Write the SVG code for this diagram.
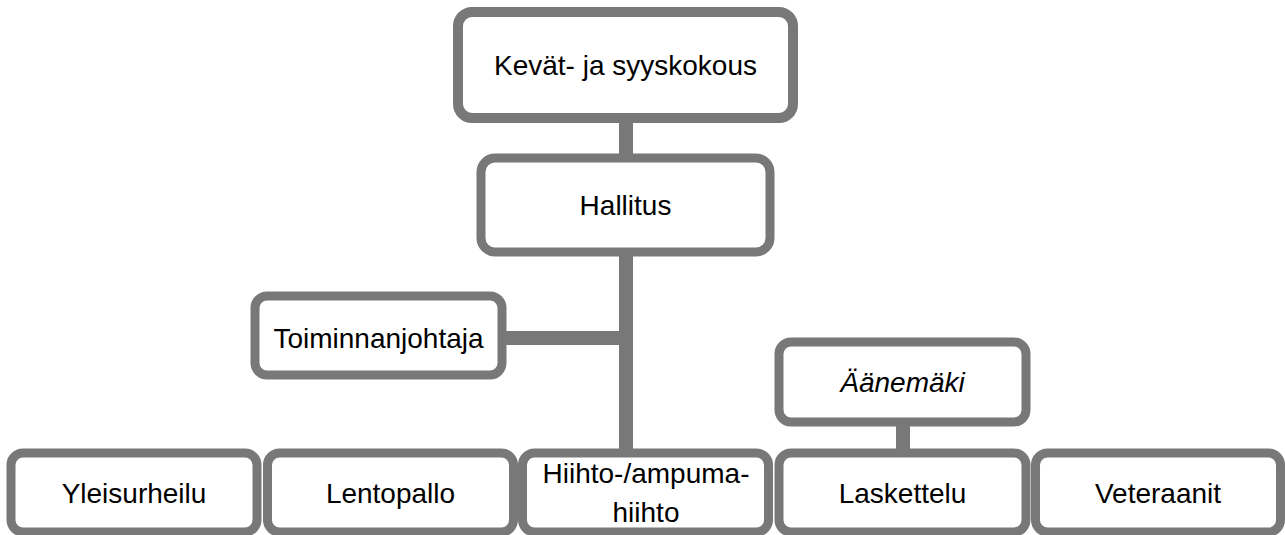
<svg xmlns="http://www.w3.org/2000/svg" width="1285" height="535" viewBox="0 0 1285 535">
<style>
.box{fill:#fff;stroke:#787878;stroke-width:9}
.con{stroke:#787878;stroke-width:14;fill:none}
text{font-family:"Liberation Sans",Arial,sans-serif;font-size:28px;fill:#000;text-anchor:middle}
</style>
<rect width="1285" height="535" fill="#fff"/>
<g id="connectors">
<line class="con" x1="626" y1="118" x2="626" y2="160"/>
<line class="con" x1="626" y1="252" x2="626" y2="455"/>
<line class="con" x1="502" y1="338" x2="626" y2="338"/>
<line class="con" x1="903" y1="422" x2="903" y2="456"/>
</g>
<g id="kevat"><rect class="box" x="458" y="12" width="335" height="106" rx="14" style="stroke-width:10"/><text x="625.5" y="75">Kevät- ja syyskokous</text></g>
<g id="hallitus"><rect class="box" x="481" y="158" width="289" height="94" rx="14"/><text x="625.5" y="215">Hallitus</text></g>
<g id="toiminnanjohtaja"><rect class="box" x="255" y="296" width="247" height="79" rx="12"/><text x="378.5" y="348">Toiminnanjohtaja</text></g>
<g id="aanemaki"><rect class="box" x="779" y="342" width="247" height="80" rx="12"/><text x="902.5" y="392" font-style="italic">Äänemäki</text></g>
<g id="yleisurheilu"><rect class="box" x="11" y="453" width="246" height="79" rx="12"/><text x="134" y="503">Yleisurheilu</text></g>
<g id="lentopallo"><rect class="box" x="267.5" y="453" width="246" height="79" rx="12"/><text x="390.5" y="503">Lentopallo</text></g>
<g id="hiihto"><rect class="box" x="522.5" y="453" width="246" height="79" rx="12"/><text x="646" y="483">Hiihto-/ampuma-</text><text x="646" y="522">hiihto</text></g>
<g id="laskettelu"><rect class="box" x="779" y="453" width="247" height="79" rx="12"/><text x="902.5" y="503">Laskettelu</text></g>
<g id="veteraanit"><rect class="box" x="1035.5" y="453" width="245" height="79" rx="12"/><text x="1158" y="503">Veteraanit</text></g>
</svg>
